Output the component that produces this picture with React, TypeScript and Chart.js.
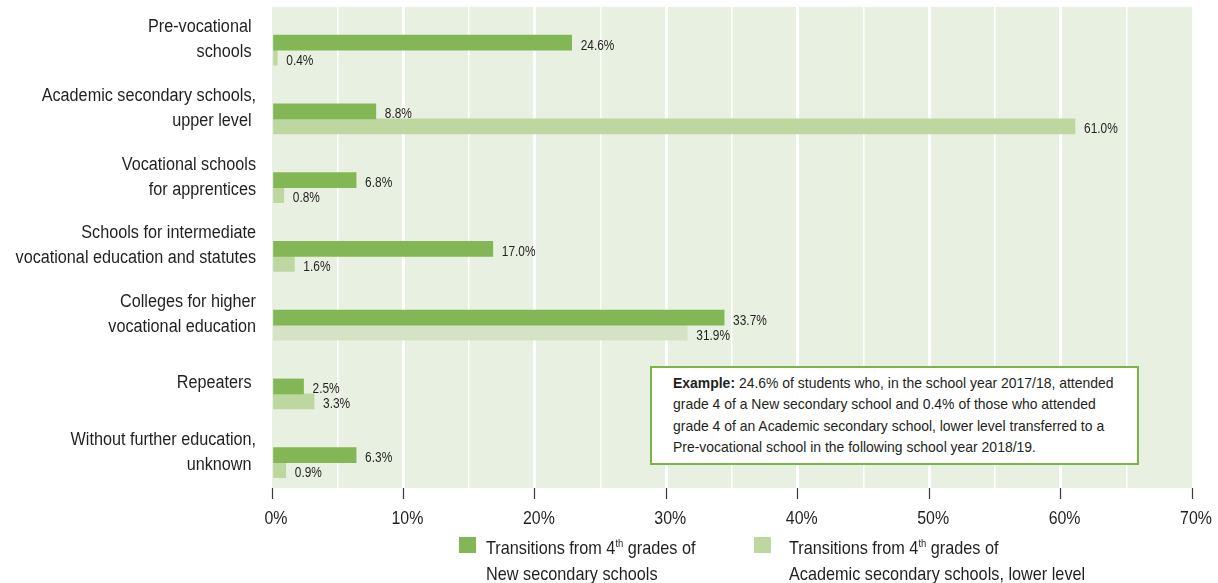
import React, { useEffect, useRef } from 'react';
import { Chart, registerables } from 'chart.js';

Chart.register(...registerables);

// ---- data ----
const categories: string[][] = [
  ['Pre-vocational ', 'schools '],
  ['Academic secondary schools,', 'upper level '],
  ['Vocational schools', 'for apprentices'],
  ['Schools for intermediate', 'vocational education and statutes'],
  ['Colleges for higher', 'vocational education'],
  ['Repeaters '],
  ['Without further education,', 'unknown '],
];

// bar lengths as drawn in the picture (percent)
const newSecondaryValues = [22.8, 7.9, 6.4, 16.8, 34.4, 2.4, 6.4];
const academicLowerValues = [0.4, 61.1, 0.9, 1.7, 31.6, 3.2, 1.05];

// printed value labels
const newSecondaryLabels = ['24.6%', '8.8%', '6.8%', '17.0%', '33.7%', '2.5%', '6.3%'];
const academicLowerLabels = ['0.4%', '61.0%', '0.8%', '1.6%', '31.9%', '3.3%', '0.9%'];

const xMin = 0;
const xMax = 70;
const xStep = 5;
const xLabelStep = 10;

const seriesNames = [
  'Transitions from 4th grades of New secondary schools',
  'Transitions from 4th grades of Academic secondary schools, lower level',
];

// ---- styles ----
const FONT = "'Liberation Sans', Arial, sans-serif";
const TEXT = '#231f20';
const GREEN = '#83b654';
const LIGHT = '#bed7a1';
const LIGHT_ALT = '#d5e3c4';
const BG = '#e8f1e1';

function drawNarrowText(ctx: CanvasRenderingContext2D, text: string, x: number, y: number, align: CanvasTextAlign, sx: number) {
  ctx.save();
  ctx.translate(x, y);
  ctx.scale(sx, 1);
  ctx.textAlign = align;
  ctx.textBaseline = 'alphabetic';
  ctx.fillText(text, 0, 0);
  ctx.restore();
}

const bgPlugin = {
  id: 'plotBg',
  beforeDraw(chart: any) {
    const { ctx, chartArea } = chart;
    ctx.save();
    ctx.fillStyle = BG;
    ctx.fillRect(chartArea.left, chartArea.top, chartArea.right - chartArea.left, chartArea.bottom - chartArea.top);
    ctx.restore();
  },
};

const textPlugin = {
  id: 'narrowText',
  afterDraw(chart: any) {
    const { ctx, chartArea } = chart;
    ctx.save();
    ctx.fillStyle = TEXT;

    // category labels (left)
    const yScale = chart.scales.y;
    ctx.font = `18px ${FONT}`;
    const lineH = 25;
    categories.forEach((lines, i) => {
      const c = yScale.getPixelForValue(i) - 3;
      lines.forEach((line, k) => {
        const base = c + (k - (lines.length - 1) / 2) * lineH + 6.4;
        drawNarrowText(ctx, line, chartArea.left - 16, base, 'right', 0.9);
      });
    });

    // x tick labels
    const xScale = chart.scales.x;
    ctx.font = `18.5px ${FONT}`;
    for (let v = xMin; v <= xMax; v += xLabelStep) {
      drawNarrowText(ctx, `${v}%`, xScale.getPixelForValue(v) + 4, chartArea.bottom + 36, 'center', 0.86);
    }

    // value labels
    const labelSets = [newSecondaryLabels, academicLowerLabels];
    ctx.font = `14px ${FONT}`;
    chart.data.datasets.forEach((_: any, di: number) => {
      const meta = chart.getDatasetMeta(di);
      meta.data.forEach((el: any, i: number) => {
        drawNarrowText(ctx, labelSets[di][i], el.x + 9, el.y + 7, 'left', 0.85);
      });
    });
    ctx.restore();
  },
};

export default function App() {
  const canvasRef = useRef<HTMLCanvasElement | null>(null);

  useEffect(() => {
    document.body.style.margin = '0';
    const canvas = canvasRef.current;
    if (!canvas) return;
    const chart = new Chart(canvas, {
      type: 'bar',
      data: {
        datasets: [
          {
            label: seriesNames[0],
            data: newSecondaryValues.map((v, i) => ({ x: v, y: i })),
            backgroundColor: GREEN,
            yAxisID: 'yb',
            xAxisID: 'x',
          },
          {
            label: seriesNames[1],
            data: academicLowerValues.map((v, i) => ({ x: v, y: i })),
            backgroundColor: academicLowerValues.map((_, i) => (i === 4 ? LIGHT_ALT : LIGHT)),
            yAxisID: 'yb',
            xAxisID: 'x',
          },
        ],
      } as any,
      options: {
        indexAxis: 'y',
        animation: false,
        responsive: true,
        maintainAspectRatio: false,
        layout: { padding: { top: 7, left: 0, right: 26, bottom: 0 } },
        datasets: { bar: { barThickness: 15, borderWidth: 0 } } as any,
        plugins: {
          legend: { display: false },
          tooltip: { enabled: false },
          title: { display: false },
        },
        scales: {
          x: {
            type: 'linear',
            position: 'bottom',
            min: xMin,
            max: xMax,
            border: { display: false },
            grid: {
              color: (c: any) => (c.tick && (c.tick.value === xMin || c.tick.value === xMax) ? 'rgba(0,0,0,0)' : '#ffffff'),
              lineWidth: (c: any) => (c.tick && c.tick.value % xLabelStep === 0 ? 3 : 1.5),
              tickColor: (c: any) => (c.tick && c.tick.value % xLabelStep === 0 ? '#3a3a3a' : 'rgba(0,0,0,0)'),
              tickWidth: 1.2,
              tickLength: 11,
            },
            ticks: {
              display: false,
              stepSize: xStep,
              autoSkip: false,
              maxRotation: 0,
            },
            afterFit: (s: any) => {
              s.height = 95;
              s.paddingLeft = 0;
              s.paddingRight = 0;
            },
          },
          y: {
            type: 'category',
            axis: 'y',
            position: 'left',
            labels: categories.map((l) => l.join(' ')),
            offset: true,
            border: { display: false },
            grid: { display: false, drawTicks: false },
            ticks: { display: false },
            afterFit: (s: any) => {
              s.width = 272;
              s.paddingTop = 0;
              s.paddingBottom = 0;
            },
          },
          yb: {
            type: 'linear',
            axis: 'y',
            display: false,
            reverse: true,
            offset: false,
            min: -0.628,
            max: 6.368,
            grid: { offset: false },
          },
        } as any,
      },
      plugins: [bgPlugin, textPlugin],
    });
    return () => chart.destroy();
  }, []);

  const legendText: React.CSSProperties = {
    position: 'absolute',
    top: 535.5,
    fontFamily: FONT,
    fontSize: 19,
    lineHeight: '24px',
    color: TEXT,
    whiteSpace: 'nowrap',
    transform: 'scaleX(0.855)',
    transformOrigin: 'left top',
  };
  const sup: React.CSSProperties = { fontSize: 11, position: 'relative', top: -7 };

  return (
    <div style={{ position: 'relative', width: 1218, height: 583, overflow: 'hidden', background: '#ffffff' }}>
      <canvas ref={canvasRef} style={{ position: 'absolute', left: 0, top: 0 }} />
      <div
        style={{
          position: 'absolute',
          left: 650,
          top: 366,
          width: 489,
          height: 99,
          boxSizing: 'border-box',
          border: '2px solid #79b547',
          background: '#ffffff',
        }}
      >
        <div
          style={{
            position: 'absolute',
            left: 21,
            top: 4,
            fontFamily: FONT,
            fontSize: 15,
            lineHeight: '21.3px',
            color: TEXT,
            whiteSpace: 'nowrap',
            transform: 'scaleX(0.93)',
            transformOrigin: 'left top',
          }}
        >
          <b>Example:</b> 24.6% of students who, in the school year 2017/18, attended
          <br />
          grade 4 of a New secondary school and 0.4% of those who attended
          <br />
          grade 4 of an Academic secondary school, lower level transferred to a
          <br />
          Pre-vocational school in the following school year 2018/19.
        </div>
      </div>
      <div style={{ position: 'absolute', left: 459, top: 537, width: 17, height: 16, background: GREEN }} />
      <div style={{ ...legendText, left: 486 }}>
        Transitions from 4<span style={sup}>th</span> grades of
        <br />
        New secondary schools
      </div>
      <div style={{ position: 'absolute', left: 754, top: 537, width: 17, height: 16, background: LIGHT }} />
      <div style={{ ...legendText, left: 789 }}>
        Transitions from 4<span style={sup}>th</span> grades of
        <br />
        Academic secondary schools, lower level
      </div>
    </div>
  );
}
